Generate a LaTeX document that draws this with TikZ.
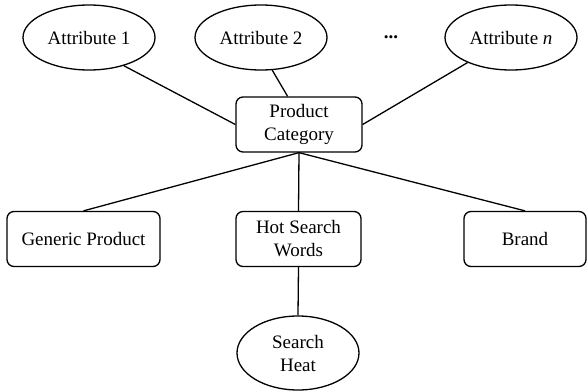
\documentclass[tikz,border=0pt]{standalone}
\usepackage{fontspec}
\setmainfont{Liberation Serif}
\newfontfamily\labelfont{Liberation Serif}
\usetikzlibrary{shapes.geometric}
\begin{document}
\begin{tikzpicture}[x=1pt,y=-1pt,
  every node/.style={font=\labelfont\fontsize{19}{23}\selectfont, align=center, inner sep=0pt},
  attr/.style={draw, ellipse, line width=1.3pt, minimum width=132pt, minimum height=65pt},
  entity/.style={draw, rectangle, rounded corners=7pt, line width=1.3pt, minimum height=55pt},
  link/.style={line width=1.3pt}]
  \useasboundingbox (0,0) rectangle (587,391);

  % attribute ellipses along the top
  \node[attr] (a1) at (89,37.5) {Attribute 1};
  \node[attr] (a2) at (261,37.5) {Attribute 2};
  \node (dots) at (391,37) {\textbf{...}};
  \node[attr] (an) at (511,37.5) {Attribute \textit{n}};

  % central category box
  \node[entity, minimum width=126pt] (pc) at (299,124.5) {Product\\Category};

  % bottom row
  \node[entity, minimum width=153pt] (gp) at (83.5,239) {Generic Product};
  \node[entity, minimum width=125pt] (hs) at (298.5,239) {Hot Search\\Words};
  \node[entity, minimum width=122pt] (br) at (525,239) {Brand};

  \node[attr, minimum width=122pt, minimum height=74pt] (sh) at (298,353) {Search\\Heat};

  % connectors
  \draw[link] (a1.-39) -- (pc.west);
  \draw[link] (a2.-71) -- (pc.112);
  \draw[link] (an.210) -- (pc.east);
  \draw[link] (pc.south) -- (gp.north);
  \draw[link] (pc.south) -- (hs.north);
  \draw[link] (pc.south) -- (br.north);
  \draw[link] (hs.south) -- (sh.north);
\end{tikzpicture}
\end{document}
